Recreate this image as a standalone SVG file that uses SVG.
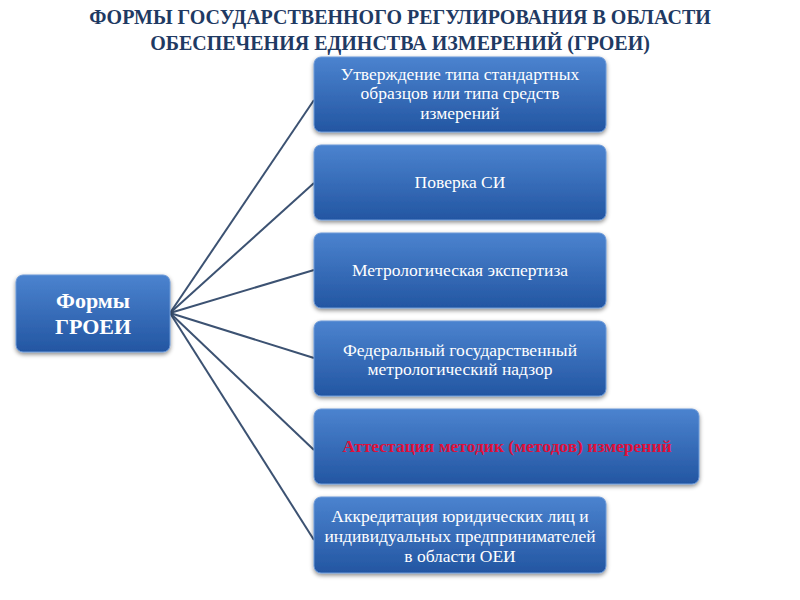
<svg xmlns="http://www.w3.org/2000/svg" width="800" height="600" viewBox="0 0 800 600">
<defs>
<linearGradient id="g" x1="0" y1="0" x2="0" y2="1">
<stop offset="0" stop-color="#4b83cf"/>
<stop offset="1" stop-color="#2356a2"/>
</linearGradient>
<filter id="sh" x="-10%" y="-10%" width="120%" height="130%">
<feDropShadow dx="0" dy="2" stdDeviation="2" flood-color="#000" flood-opacity="0.45"/>
</filter>
</defs>
<style>
.box{fill:url(#g);stroke:#6d9ad8;stroke-width:1;filter:url(#sh)}
.c line{stroke:#3c5272;stroke-width:2}
</style>
<rect width="800" height="600" fill="#ffffff"/>
<text font-family="Liberation Serif" font-size="20" font-weight="bold" fill="#1f3a63" text-anchor="middle" x="400" y="24">ФОРМЫ ГОСУДАРСТВЕННОГО РЕГУЛИРОВАНИЯ В ОБЛАСТИ</text>
<text font-family="Liberation Serif" font-size="20" font-weight="bold" fill="#1f3a63" text-anchor="middle" x="400" y="50">ОБЕСПЕЧЕНИЯ ЕДИНСТВА ИЗМЕРЕНИЙ (ГРОЕИ)</text>
<g class="c" id="connectors">
<line x1="170" y1="313" x2="314" y2="100"/>
<line x1="170" y1="313" x2="314" y2="183"/>
<line x1="170" y1="313" x2="314" y2="270"/>
<line x1="170" y1="313" x2="314" y2="358"/>
<line x1="170" y1="313" x2="314" y2="450"/>
<line x1="170" y1="313" x2="314" y2="540"/>
</g>
<g id="root">
<rect class="box" x="16" y="275" width="154" height="77" rx="7"/>
<text font-family="Liberation Serif" font-size="22" font-weight="bold" fill="#ffffff" text-anchor="middle" x="93" y="308">Формы</text>
<text font-family="Liberation Serif" font-size="22" font-weight="bold" fill="#ffffff" text-anchor="middle" x="93" y="334">ГРОЕИ</text>
</g>
<g id="n1">
<rect class="box" x="314" y="57" width="292" height="75" rx="7"/>
<text font-family="Liberation Serif" font-size="17.5" fill="#ffffff" text-anchor="middle" x="460" y="80">Утверждение типа стандартных</text>
<text font-family="Liberation Serif" font-size="17.5" fill="#ffffff" text-anchor="middle" x="460" y="99">образцов или типа средств</text>
<text font-family="Liberation Serif" font-size="17.5" fill="#ffffff" text-anchor="middle" x="460" y="119">измерений</text>
</g>
<g id="n2">
<rect class="box" x="314" y="145" width="292" height="75" rx="7"/>
<text font-family="Liberation Serif" font-size="17.5" fill="#ffffff" text-anchor="middle" x="460" y="188">Поверка СИ</text>
</g>
<g id="n3">
<rect class="box" x="314" y="233" width="292" height="75" rx="7"/>
<text font-family="Liberation Serif" font-size="17.5" fill="#ffffff" text-anchor="middle" x="460" y="276">Метрологическая экспертиза</text>
</g>
<g id="n4">
<rect class="box" x="314" y="321" width="292" height="75" rx="7"/>
<text font-family="Liberation Serif" font-size="17.5" fill="#ffffff" text-anchor="middle" x="460" y="356">Федеральный государственный</text>
<text font-family="Liberation Serif" font-size="17.5" fill="#ffffff" text-anchor="middle" x="460" y="375">метрологический надзор</text>
</g>
<g id="n5">
<rect class="box" x="314" y="409" width="385" height="75" rx="7"/>
<text font-family="Liberation Serif" font-size="17.5" font-weight="bold" fill="#e0103a" text-anchor="middle" x="507" y="452">Аттестация методик (методов) измерений</text>
</g>
<g id="n6">
<rect class="box" x="314" y="497" width="292" height="76" rx="7"/>
<text font-family="Liberation Serif" font-size="17.5" fill="#ffffff" text-anchor="middle" x="460" y="522">Аккредитация юридических лиц и</text>
<text font-family="Liberation Serif" font-size="17.5" fill="#ffffff" text-anchor="middle" x="460" y="542">индивидуальных предпринимателей</text>
<text font-family="Liberation Serif" font-size="17.5" fill="#ffffff" text-anchor="middle" x="460" y="562">в области ОЕИ</text>
</g>
</svg>
